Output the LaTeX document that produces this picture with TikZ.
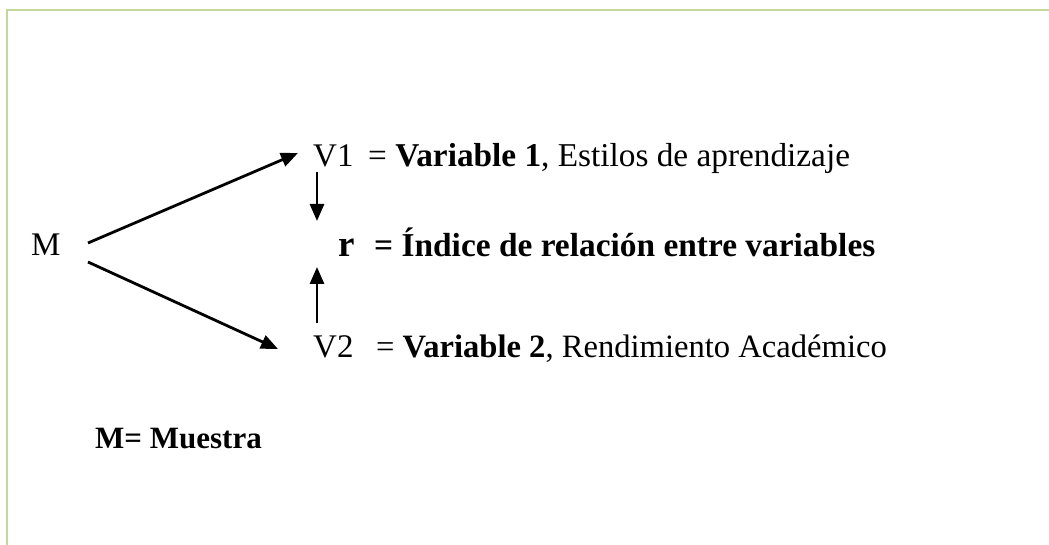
\documentclass[tikz,border=0pt]{standalone}
\usepackage{fontspec}
\setmainfont{Liberation Serif}
\usetikzlibrary{arrows.meta}
\definecolor{frame}{HTML}{C3D69B}
\tikzset{
  txt/.style={anchor=base west,inner sep=0pt,font=\fontsize{33}{38}\selectfont},
  btxt/.style={txt,font=\fontsize{33}{38}\selectfont\bfseries},
  conn/.style={line width=2.8pt,-{Triangle[length=17pt,width=14pt]}},
  border/.style={line width=2.2pt,draw=frame}
}
\begin{document}
\begin{tikzpicture}[x=1pt,y=-1pt]
\useasboundingbox (0,0) rectangle (1049,545);
\draw[border] (7,545) -- (7,10) -- (1049,10);
\node[txt] (M) at (31,256) {M};
\node[txt] (V1) at (313,167) {V1};
\node[txt,font=\fontsize{33.3}{38}\selectfont] (d1) at (368,167) {= \textbf{Variable 1}, Estilos de aprendizaje};
\node[btxt,font=\fontsize{37}{42}\selectfont\bfseries] (r) at (338,257) {r};
\node[btxt,font=\fontsize{33.4}{38}\selectfont\bfseries] (dr) at (374,257) {= Índice de relación entre variables};
\node[txt] (V2) at (313,357) {V2};
\node[txt,font=\fontsize{32.6}{38}\selectfont] (d2) at (376,357) {= \textbf{Variable 2}, Rendimiento Académico};
\node[btxt,font=\fontsize{31}{36}\selectfont\bfseries] (mu) at (95,448) {M= Muestra};
\coordinate (m1) at (88,243);
\coordinate (m2) at (88,262);
\coordinate (t1) at (298,153);
\coordinate (t2) at (278,349);
\coordinate (v1b) at (317,172);
\coordinate (rt) at (317,221);
\coordinate (v2t) at (317,323);
\coordinate (rb) at (317,267);
\draw[conn] (m1) -- (t1);
\draw[conn] (m2) -- (t2);
\draw[conn] (v1b) -- (rt);
\draw[conn] (v2t) -- (rb);
\end{tikzpicture}
\end{document}
